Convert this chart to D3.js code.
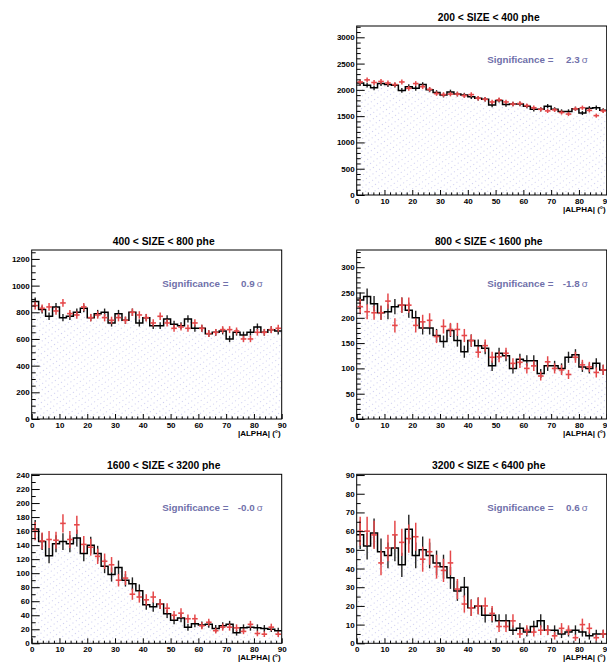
<!DOCTYPE html>
<meta charset="utf-8">
<style>
  body { margin: 0; background: #fff; }
  svg text { font-family: 'Liberation Sans', Arial, Helvetica, sans-serif; font-weight: bold; }
</style>
<script src="https://d3js.org/d3.v7.min.js"></script>
<div id="chart"></div>
<script>
// |ALPHA| distributions, ON (black histogram) vs OFF (red crosses), in 5 SIZE bins

var sizeTitles = ["200 < SIZE < 400 phe", "400 < SIZE < 800 phe", "800 < SIZE < 1600 phe",
                  "1600 < SIZE < 3200 phe", "3200 < SIZE < 6400 phe"];
var significance = ["2.3", "0.9", "-1.8", "-0.0", "0.6"];

// lower edge of every |ALPHA| bin (2.5 deg wide)
var alphaEdges = d3.range(0, 90, 2.5);
var binWidth = 2.5;

var on200  = [2130,2090,2040,2120,2100,2090,1990,2060,2030,2100,2000,1950,1900,1960,1920,1900,1870,1840,1820,1710,1800,1720,1730,1730,1690,1630,1630,1690,1630,1590,1590,1640,1560,1650,1660,1610];
var on200Err = [46,46,45,46,46,46,45,45,45,46,45,44,44,44,44,44,43,43,43,41,42,41,42,42,41,40,40,41,40,40,40,40,39,41,41,40];
var off200 = [2150,2190,2140,2160,2130,2100,2150,2030,2120,2060,2010,1930,1910,1920,1920,1890,1910,1840,1820,1770,1810,1770,1730,1740,1700,1660,1630,1600,1620,1570,1540,1640,1660,1610,1510,1600];
var off200Err = [46,47,46,46,46,46,46,45,46,45,45,44,44,44,44,43,44,43,43,42,43,42,42,42,41,41,40,40,40,40,39,40,41,40,39,40];

var on400  = [880,820,770,840,760,770,800,830,760,790,800,720,790,740,800,720,760,700,700,750,710,700,750,680,680,640,650,660,600,650,630,650,690,650,670,660];
var on400Err = [30,29,28,29,28,28,28,29,28,28,28,27,28,27,28,27,28,26,26,27,27,26,27,26,26,25,25,26,24,25,25,25,26,25,26,26];
var off400 = [850,830,840,810,870,790,780,840,760,780,760,740,760,740,800,780,760,720,770,720,680,690,680,720,680,640,650,670,670,660,600,600,650,650,670,680];
var off400Err = [29,29,29,28,29,28,28,29,28,28,28,27,28,27,28,28,28,27,28,27,26,26,26,27,26,25,25,26,26,26,24,24,25,25,26,26];

var on800  = [235,242,228,210,212,222,225,215,200,180,180,165,153,175,155,133,155,145,140,105,130,125,100,118,115,115,90,105,105,100,122,127,103,100,110,97];
var on800Err = [15,16,15,14,15,15,15,15,14,13,13,13,12,13,12,12,12,12,12,10,11,11,10,11,11,11,9,10,10,10,11,11,10,10,10,10];
var off800 = [222,212,210,210,233,185,225,225,185,192,195,163,183,177,177,165,155,132,145,122,123,130,110,112,100,105,85,113,100,97,88,122,107,103,92,97];
var off800Err = [15,15,14,14,15,14,15,15,14,14,14,13,14,13,13,13,12,11,12,11,11,11,10,11,10,10,9,11,10,10,9,11,10,10,10,10];

var on1600  = [163,145,125,142,145,142,150,128,140,128,110,98,108,90,85,75,55,52,56,42,33,36,23,28,26,27,21,25,27,15,22,23,22,21,20,18];
var on1600Err = [13,12,11,12,12,12,12,11,12,11,10,10,10,9,9,9,7,7,7,6,6,6,5,5,5,5,5,5,5,4,5,5,5,5,4,4];
var off1600 = [160,146,148,147,171,148,169,141,137,124,117,112,90,93,70,66,62,66,56,50,40,43,35,35,25,30,18,23,23,22,17,27,14,13,23,13];
var off1600Err = [13,12,12,12,13,12,13,12,12,11,11,11,9,10,8,8,8,8,7,7,6,7,6,6,5,5,4,5,5,5,4,5,4,4,5,4];

var on3200  = [58,52,59,49,47,51,42,61,47,50,47,43,41,35,28,30,19,20,15,15,12,12,7,8,6,9,12,7,7,5,6,7,6,4,5,5];
var on3200Err = [7.6,7.2,7.7,7,6.9,7.1,6.5,7.8,6.9,7.1,6.9,6.6,6.4,5.9,5.3,5.5,4.4,4.5,3.9,3.9,3.5,3.5,2.6,2.8,2.4,3,3.5,2.6,2.6,2.2,2.4,2.6,2.4,2,2.2,2.2];
var off3200 = [60,60,58,43,51,58,54,56,57,45,49,41,39,43,29,21,19,20,20,16,9,9,12,5,7,6,7,7,4,8,7,3,10,8,3,5];
var off3200Err = [7.7,7.7,7.6,6.6,7.1,7.6,7.3,7.5,7.5,6.7,7,6.4,6.2,6.6,5.4,4.6,4.4,4.5,4.5,4,3,3,3.5,2.2,2.6,2.4,2.6,2.6,2,2.8,2.6,1.7,3.2,2.8,1.7,2.2];

var onCounts  = [on200, on400, on800, on1600, on3200];
var onErrors  = [on200Err, on400Err, on800Err, on1600Err, on3200Err];
var offCounts = [off200, off400, off800, off1600, off3200];
var offErrors = [off200Err, off400Err, off800Err, off1600Err, off3200Err];

// y axis range and tick spacing per panel
var yMax   = [3215, 1267, 334, 241, 90.4];
var yMajor = [500, 200, 50, 20, 10];
var yMinor = [100, 50, 10, 10, 5];

// layout (pad grid 2 x 3, first slot left empty)
var colX = [31.7, 356.7], rowY = [26, 250, 474.3];
var slots = [[1, 0], [0, 1], [1, 1], [0, 2], [1, 2]];
var w = 250, h = 169;

var svg = d3.select("#chart").append("svg")
    .attr("width", 607)
    .attr("height", 662);

var defs = svg.append("defs");
var pat = defs.append("pattern")
    .attr("id", "dots")
    .attr("patternUnits", "userSpaceOnUse")
    .attr("width", 4).attr("height", 5)
    .attr("patternTransform", "rotate(-35)");
pat.append("rect").attr("width", 1).attr("height", 1).attr("fill", "#cdcdf0");

var x = d3.scaleLinear().domain([0, 90]).range([0, w]);

sizeTitles.forEach(function(title, p) {
  var g = svg.append("g")
      .attr("transform", "translate(" + colX[slots[p][0]] + "," + rowY[slots[p][1]] + ")");

  var y = d3.scaleLinear().domain([0, yMax[p]]).range([h, 0]);
  var on = onCounts[p], onE = onErrors[p], off = offCounts[p], offE = offErrors[p];

  // histogram points with closing edge at 90
  var steps = alphaEdges.map(function(a, i) { return [a, on[i]]; });
  steps.push([90, on[on.length - 1]]);

  var area = d3.area()
      .curve(d3.curveStepAfter)
      .x(function(d) { return x(d[0]); })
      .y0(h)
      .y1(function(d) { return y(d[1]); });
  g.append("path").datum(steps)
      .attr("d", area)
      .attr("fill", "url(#dots)");

  // ON error bars
  g.selectAll(".onerr").data(on).enter().append("line")
      .attr("x1", function(d, i) { return x(alphaEdges[i] + binWidth / 2); })
      .attr("x2", function(d, i) { return x(alphaEdges[i] + binWidth / 2); })
      .attr("y1", function(d, i) { return y(d - onE[i]); })
      .attr("y2", function(d, i) { return y(d + onE[i]); })
      .attr("stroke", "#222")
      .attr("stroke-width", 1.4);

  var line = d3.line()
      .curve(d3.curveStepAfter)
      .x(function(d) { return x(d[0]); })
      .y(function(d) { return y(d[1]); });
  g.append("path").datum(steps)
      .attr("d", line)
      .attr("fill", "none")
      .attr("stroke", "#000")
      .attr("stroke-width", 1.5);

  // OFF crosses
  var red = g.selectAll(".off").data(off).enter().append("g")
      .attr("transform", function(d, i) {
        return "translate(" + x(alphaEdges[i] + binWidth / 2) + "," + y(d) + ")";
      });
  red.append("line")
      .attr("y1", function(d, i) { return y(d - offE[i]) - y(d); })
      .attr("y2", function(d, i) { return y(d + offE[i]) - y(d); })
      .attr("stroke", "#e5484a").attr("stroke-width", 1.5);
  red.append("line")
      .attr("x1", -2.8).attr("x2", 2.8)
      .attr("stroke", "#e5484a").attr("stroke-width", 1.6);

  // axes: ticks point inward like ROOT
  var majors = d3.range(0, yMax[p], yMajor[p]);
  var minors = d3.range(0, yMax[p], yMinor[p]).filter(function(v) { return majors.indexOf(v) < 0; });

  g.append("g")
      .call(d3.axisLeft(y).tickValues(minors).tickSize(-4).tickFormat(""))
      .call(function(s) { s.select(".domain").remove(); });
  g.append("g")
      .call(d3.axisLeft(y).tickValues(majors).tickSize(-8).tickPadding(2).tickFormat(d3.format("d")))
      .call(function(s) { s.select(".domain").remove(); s.selectAll("text").style("font-size", "8px"); });

  var xMinors = d3.range(0, 91, 2).filter(function(v) { return v % 10 !== 0; });
  g.append("g")
      .attr("transform", "translate(0," + h + ")")
      .call(d3.axisBottom(x).tickValues(xMinors).tickSize(-2.6).tickFormat(""))
      .call(function(s) { s.select(".domain").remove(); });
  g.append("g")
      .attr("transform", "translate(0," + h + ")")
      .call(d3.axisBottom(x).tickValues(d3.range(0, 91, 10)).tickSize(-5).tickPadding(3))
      .call(function(s) { s.select(".domain").remove(); s.selectAll("text").style("font-size", "8px"); });
  g.selectAll(".tick line").attr("stroke", "#000").attr("stroke-width", 1);

  g.append("rect")
      .attr("width", w).attr("height", h)
      .attr("fill", "none")
      .attr("stroke", "#000")
      .attr("stroke-width", 1);

  g.append("text")
      .attr("x", w - 1)
      .attr("y", h + 17)
      .attr("text-anchor", "end")
      .style("font-size", "8px")
      .text("|ALPHA| (\u00b0)");

  g.append("text")
      .attr("x", w / 2 + 7)
      .attr("y", -5)
      .attr("text-anchor", "middle")
      .style("font-size", "10.3px")
      .text(title);

  var sig = g.append("g").style("fill", "#7070aa").style("font-size", "9.8px");
  sig.append("text").attr("x", 130.5).attr("y", 37).text("Significance =");
  sig.append("text").attr("x", 223).attr("y", 37).attr("text-anchor", "end").text(significance[p]);
  sig.append("text").attr("x", 225).attr("y", 37).style("font-weight", "normal").text("\u03c3");
});
</script>
